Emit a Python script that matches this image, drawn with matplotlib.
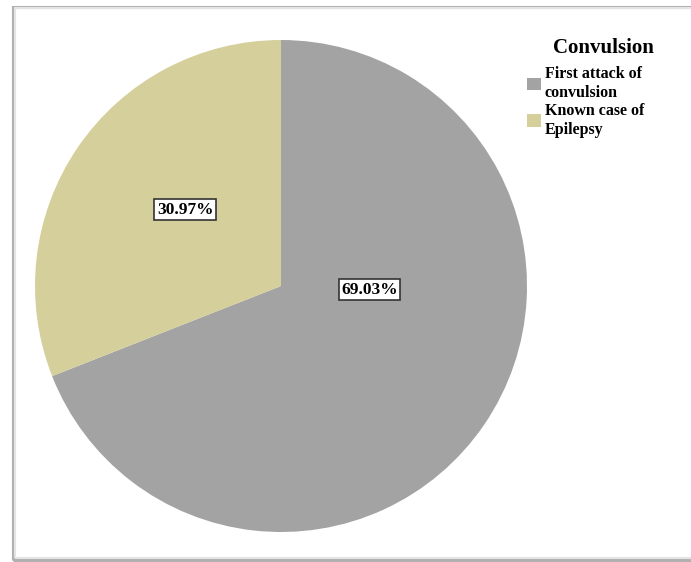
import matplotlib
matplotlib.use('Agg')
import matplotlib.pyplot as plt
from matplotlib.patches import Rectangle

# data
labels = ['First attack of\nconvulsion', 'Known case of\nEpilepsy']
shares = [69.03, 30.97]
colors = ['#a3a3a3', '#d5cf9b']
legend_title = 'Convulsion'

plt.rcParams['font.family'] = ['Liberation Serif', 'DejaVu Serif']

W, H = 691, 562
fig = plt.figure(figsize=(W / 100, H / 100), dpi=100)
fig.patch.set_facecolor('white')

# frame with a soft shadow on the left/bottom
fig.add_artist(Rectangle((13 / W, 2 / H), 1.2, 1 - 9 / H, transform=fig.transFigure,
                         fill=False, edgecolor='#b0b0b0', lw=2.2))
fig.add_artist(Rectangle((15 / W, 4 / H), 1.2, 1 - 12 / H, transform=fig.transFigure,
                         fill=False, edgecolor='#e4e4e4', lw=1.5))

r = 246
cx, cy = 281, 286
ax = fig.add_axes([(cx - r) / W, (H - cy - r) / H, 2 * r / W, 2 * r / H])
wedges, _ = ax.pie(shares, colors=colors, startangle=90, counterclock=False,
                   wedgeprops=dict(linewidth=0))
ax.set_aspect('equal')
ax.set_xlim(-1, 1)
ax.set_ylim(-1, 1)
ax.axis('off')

# percentage labels in boxes
label_pos = [(0.36, -0.015), (-0.39, 0.31)]
for s, (x, y) in zip(shares, label_pos):
    ax.text(x, y, f'{s:.2f}%', ha='center', va='center', fontsize=12.5, fontweight='bold',
            bbox=dict(boxstyle='square,pad=0.15', facecolor='white', edgecolor='#333333', lw=1.2))

# legend title sits offset to the right of the entries
fig.text(603 / W, 1 - 48 / H, legend_title, ha='center', va='center',
         fontsize=15, fontweight='bold')
leg = fig.legend(wedges, labels, loc='upper left',
                 bbox_to_anchor=(513 / W, 1 - 52 / H), frameon=False,
                 prop=dict(size=11.5, weight='bold'), handlelength=0.85, handleheight=0.85,
                 handletextpad=0.25, labelspacing=0.15)

fig.savefig('out.png', dpi=100)
